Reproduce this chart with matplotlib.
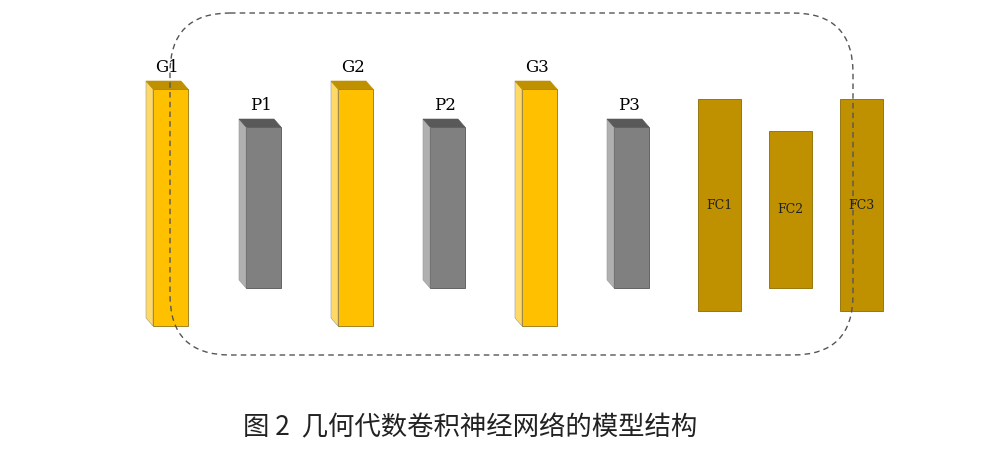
import matplotlib.pyplot as plt
from matplotlib.patches import Polygon, Rectangle, FancyBboxPatch

# layer names and heights (pixels in the reference)
layers = ["G1", "P1", "G2", "P2", "G3", "P3"]
heights = [237, 161, 237, 161, 237, 161]
fc_layers = ["FC1", "FC2", "FC3"]
fc_heights = [213, 157, 213]
caption = "图 2  几何代数卷积神经网络的模型结构"

fig = plt.figure(figsize=(9.85, 4.56), dpi=100)
ax = fig.add_axes([0, 0, 1, 1])
ax.set_xlim(0, 985)
ax.set_ylim(456, 0)
ax.axis("off")

styles = {
    "G": dict(front="#FFC000", side="#FFD966", top="#BF9000"),
    "P": dict(front="#808080", side="#B0B0B0", top="#595959"),
}
x_front = [153, 246, 338, 430, 522, 614]
w, dx, dy = 35, 7, 8
for name, h, x in zip(layers, heights, x_front):
    st = styles[name[0]]
    bottom = 327 if name[0] == "G" else 289
    top = bottom - h
    ax.add_patch(Rectangle((x, top), w, h, facecolor=st["front"], edgecolor="#7F6000" if name[0] == "G" else "#404040", lw=0.5))
    ax.add_patch(Polygon([(x - dx, top - dy), (x, top), (x, bottom), (x - dx, bottom - dy)],
                         closed=True, facecolor=st["side"], edgecolor="#999999", lw=0.4))
    ax.add_patch(Polygon([(x - dx, top - dy), (x + w - dx, top - dy), (x + w, top), (x, top)],
                         closed=True, facecolor=st["top"], edgecolor=st["top"], lw=0.4))
    ax.text(x + w / 2 - 3, top - dy - 14, name, ha="center", va="center",
            fontsize=12, family="DejaVu Serif")

fc_x = [698, 769, 840]
fc_cy = [206, 210, 206]
for name, h, x, cy in zip(fc_layers, fc_heights, fc_x, fc_cy):
    ax.add_patch(Rectangle((x, cy - h / 2), 43, h, facecolor="#BF9000", edgecolor="#8C6A00", lw=0.6))
    ax.text(x + 21.5, cy, name, ha="center", va="center", fontsize=9, family="DejaVu Serif", color="#222222")

ax.add_patch(FancyBboxPatch((170, 14), 683, 342, boxstyle="round,pad=0,rounding_size=60",
                            fill=False, edgecolor="#555555", lw=1.0, linestyle=(0, (4, 3))))
ax.add_patch(FancyBboxPatch((110, 74), 803, 222, boxstyle="round,pad=60,rounding_size=60",
                            fill=False, edgecolor="none"))

ax.text(470, 428, caption, ha="center", va="center", fontsize=19,
        family="Noto Sans CJK SC", color="#222222")

fig.savefig("out.png", dpi=100)
